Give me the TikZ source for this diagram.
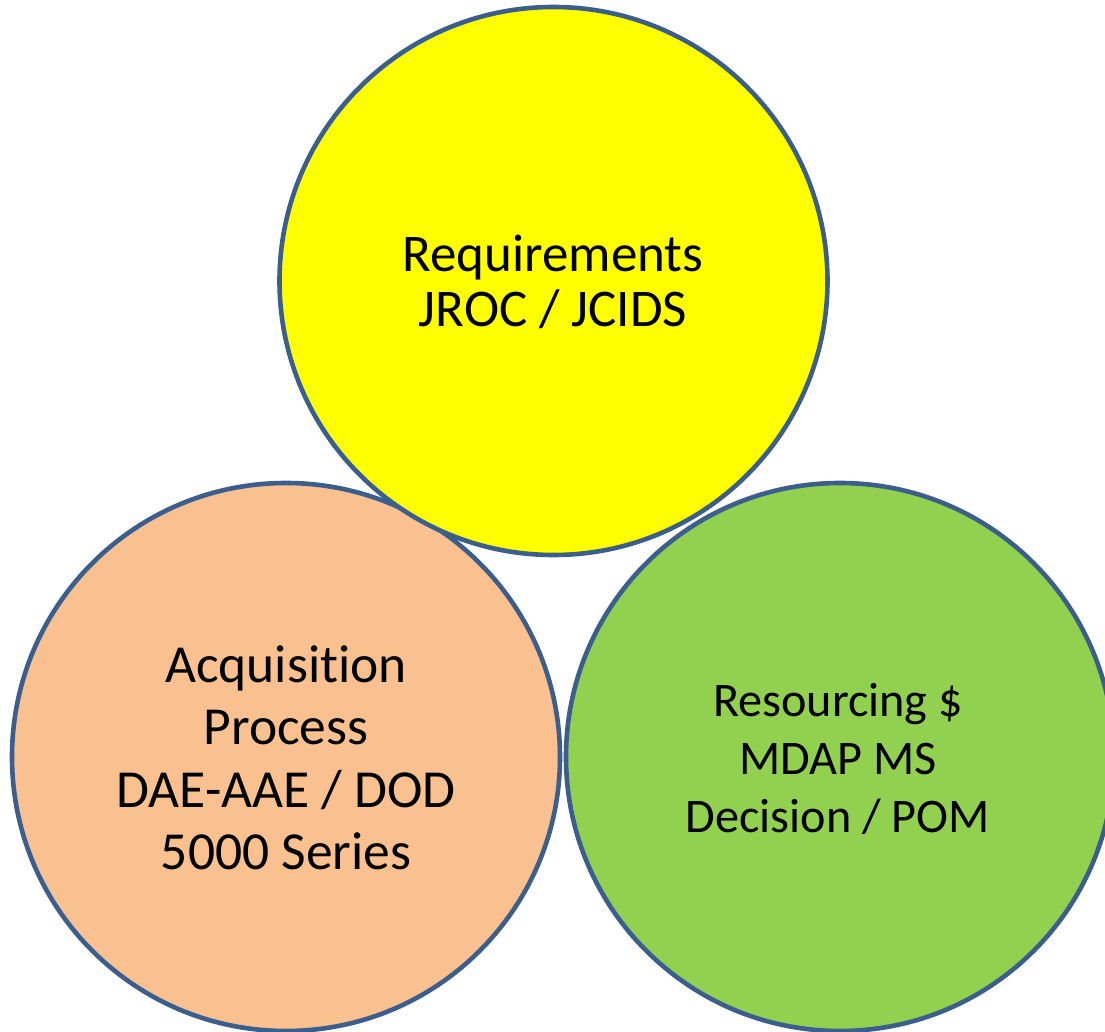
\documentclass[tikz,border=0pt]{standalone}
\usepackage{fontspec}
\setmainfont{Carlito}[RawFeature={-liga;-clig}]
\definecolor{rim}{HTML}{3B5E8C}
\definecolor{fillY}{HTML}{FFFF00}
\definecolor{fillO}{HTML}{F9C090}
\definecolor{fillG}{HTML}{92D050}
\begin{document}
\begin{tikzpicture}[x=1pt,y=-1pt,
  disc/.style={circle,draw=rim,line width=4.6pt,minimum size=548pt,inner sep=0pt},
  lbl/.style={align=center,text=black}]
\useasboundingbox (0,0) rectangle (1105,1032);
\clip (0,0) rectangle (1105,1032);
\node[disc,fill=fillO] (acq) at (286,757) {};
\node[disc,fill=fillG] (res) at (840,757) {};
\node[disc,fill=fillY] (req) at (553.5,281) {};
\node[lbl,font=\fontsize{53}{55}\selectfont] (reqt) at (553,282) {Requirements\\JROC / JCIDS};
\node[lbl,font=\fontsize{53.5}{62.5}\selectfont] (acqt) at (286,758) {Acquisit\kern0pt ion\\Process\\DAE-AAE / DOD\\5000 Series};
\node[lbl,font=\fontsize{48.2}{58}\selectfont] (rest) at (838,759) {Resourcing \$\\MDAP MS\\Decision / POM};
\end{tikzpicture}
\end{document}
